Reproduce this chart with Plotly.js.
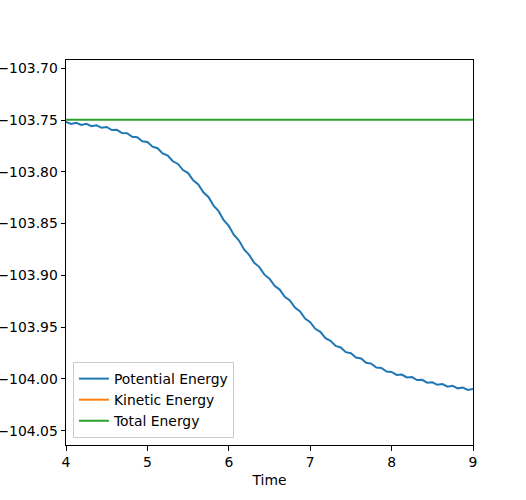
<!DOCTYPE html>
<html>
<head>
<meta charset="utf-8">
<script src="https://cdn.plot.ly/plotly-3.0.1.min.js"></script>
<style>html,body{margin:0;padding:0;background:#fff;}#chart{width:526px;height:500px;}</style>
</head>
<body>
<div id="chart"></div>
<script>
var time = [4.0000,4.0625,4.1250,4.1875,4.2500,4.3125,4.3750,4.4375,4.5000,4.5625,4.6250,4.6875,4.7500,4.8125,4.8750,4.9375,
5.0000,5.0625,5.1250,5.1875,5.2500,5.3125,5.3750,5.4375,5.5000,5.5625,5.6250,5.6875,5.7500,5.8125,5.8750,5.9375,
6.0000,6.0625,6.1250,6.1875,6.2500,6.3125,6.3750,6.4375,6.5000,6.5625,6.6250,6.6875,6.7500,6.8125,6.8750,6.9375,
7.0000,7.0625,7.1250,7.1875,7.2500,7.3125,7.3750,7.4375,7.5000,7.5625,7.6250,7.6875,7.7500,7.8125,7.8750,7.9375,
8.0000,8.0625,8.1250,8.1875,8.2500,8.3125,8.3750,8.4375,8.5000,8.5625,8.6250,8.6875,8.7500,8.8125,8.8750,8.9375,9.0000];
var potentialEnergy = [-103.7517,-103.7538,-103.7527,-103.7548,-103.7537,-103.7560,-103.7551,-103.7575,-103.7567,-103.7596,-103.7594,-103.7626,-103.7627,-103.7662,-103.7666,-103.7704,
-103.7712,-103.7757,-103.7772,-103.7822,-103.7842,-103.7898,-103.7924,-103.7983,-103.8012,-103.8082,-103.8122,-103.8197,-103.8242,-103.8326,-103.8380,-103.8467,
-103.8522,-103.8609,-103.8664,-103.8750,-103.8802,-103.8878,-103.8920,-103.8993,-103.9032,-103.9101,-103.9137,-103.9206,-103.9242,-103.9311,-103.9348,-103.9417,
-103.9452,-103.9516,-103.9545,-103.9606,-103.9632,-103.9681,-103.9696,-103.9741,-103.9752,-103.9794,-103.9803,-103.9844,-103.9852,-103.9889,-103.9894,-103.9929,
-103.9932,-103.9961,-103.9958,-103.9986,-103.9982,-104.0011,-104.0008,-104.0036,-104.0032,-104.0057,-104.0050,-104.0075,-104.0067,-104.0091,-104.0083,-104.0106,-104.0097];
var kineticTime = [4, 5, 6, 7, 8, 9];
var kineticEnergy = [0.002, 0.022, 0.103, 0.196, 0.244, 0.261];
var totalTime = [4, 9];
var totalEnergy = [-103.7497, -103.7497];
var seriesNames = ['Potential Energy', 'Kinetic Energy', 'Total Energy'];
var seriesColors = ['#1f77b4', '#ff7f0e', '#2ca02c'];

var font = 'DejaVu Sans, sans-serif';
var fs = 13.9;
var traces = [
  {x: time, y: potentialEnergy, name: seriesNames[0], mode: 'lines', line: {color: seriesColors[0], width: 2}},
  {x: kineticTime, y: kineticEnergy, name: seriesNames[1], mode: 'lines', line: {color: seriesColors[1], width: 2}},
  {x: totalTime, y: totalEnergy, name: seriesNames[2], mode: 'lines', line: {color: seriesColors[2], width: 2}}
];
var axisCommon = {
  showline: true, linecolor: '#000', linewidth: 1, mirror: true,
  ticks: 'outside', ticklen: 4.5, tickwidth: 1, tickcolor: '#000',
  showgrid: false, zeroline: false,
  tickfont: {family: font, size: fs, color: '#000'}
};
var layout = {
  width: 526, height: 500,
  margin: {l: 66, r: 53, t: 60, b: 55},
  paper_bgcolor: '#fff', plot_bgcolor: '#fff',
  font: {family: font, size: fs, color: '#000'},
  xaxis: Object.assign({}, axisCommon, {
    range: [4, 9], tick0: 4, dtick: 1,
    title: {text: 'Time', font: {family: font, size: fs, color: '#000'}, standoff: 6}
  }),
  yaxis: Object.assign({}, axisCommon, {
    range: [-104.0638, -103.692], tick0: -103.70, dtick: 0.05, tickformat: '.2f'
  }),
  legend: {
    x: 0.017, y: 0.018, xanchor: 'left', yanchor: 'bottom',
    bgcolor: 'rgba(255,255,255,0.8)', bordercolor: '#cccccc', borderwidth: 1,
    font: {family: font, size: fs, color: '#000'},
    tracegroupgap: 0
  },
  showlegend: true
};
Plotly.newPlot('chart', traces, layout, {displayModeBar: false, staticPlot: true});
</script>
</body>
</html>
